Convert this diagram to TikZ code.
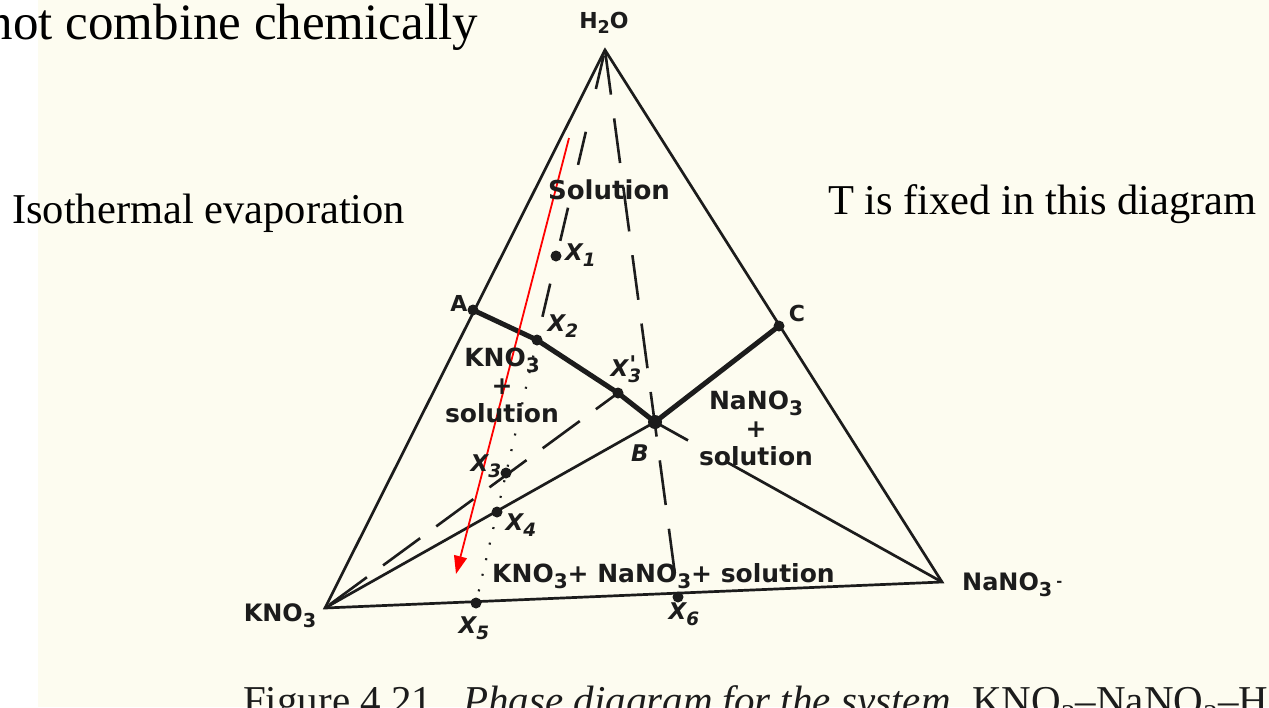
\documentclass[tikz,border=0pt]{standalone}
\usepackage{fontspec}
\setmainfont{Liberation Serif}
\newfontfamily\labfont{DejaVu Sans}
\usetikzlibrary{arrows.meta,calc}
\definecolor{paper}{RGB}{253,252,240}
\definecolor{ink}{RGB}{28,28,28}
\newcommand\sbs[1]{\raisebox{-0.45ex}{\scalebox{0.8}{#1}}}
\begin{document}
\begin{tikzpicture}[x=1pt,y=-1pt,
  every node/.style={inner sep=0pt,text=ink},
  tri/.style={draw=ink,line width=2.7pt,line join=miter},
  heavy/.style={draw=ink,line width=5pt,line cap=round,line join=round},
  dashl/.style={draw=ink,line width=2.6pt,dash pattern=on 34pt off 44pt},
  dashr/.style={draw=ink,line width=2.6pt,dash pattern=on 45pt off 24pt},
  dashk/.style={draw=ink,line width=2.6pt,dash pattern=on 46pt off 20pt},
  dotl/.style={draw=ink,line width=2.2pt,dash pattern=on 2pt off 14pt},
  dotn/.style={circle,fill=ink,minimum size=11pt},
  vlab/.style={font=\labfont\bfseries\fontsize{24}{26}\selectfont},
  rlab/.style={font=\labfont\bfseries\fontsize{25}{28}\selectfont,align=center},
  xlab/.style={font=\labfont\bfseries\itshape\fontsize{23}{24}\selectfont},
  serif/.style={text=black,font=\fontsize{42.5}{48}\selectfont},
  redarrow/.style={draw=red,line width=1.8pt,-{Triangle[length=18pt,width=13pt]}}
]
\useasboundingbox (0,0) rectangle (1269,707);
\clip (0,0) rectangle (1269,707);
\fill[white] (0,0) rectangle (1269,707);
\fill[paper] (38,0) rectangle (1269,707);

% vertices and points
\coordinate (H) at (605,50);
\coordinate (K) at (325,608);
\coordinate (N) at (942,582);
\node[dotn] (A) at (473,310) {};
\node[dotn] (C) at (779,326) {};
\node[dotn,minimum size=14pt] (B) at (655,422) {};
\node[dotn] (X1) at (556,256) {};
\node[dotn] (X2) at (537,340) {};
\node[dotn] (X3p) at (618,393) {};
\node[dotn] (X3) at (506,473) {};
\node[dotn] (X4) at (497,512) {};
\node[dotn] (X5) at (476,603) {};
\node[dotn] (X6) at (678,597) {};

% triangle
\draw[tri] (H) -- (K) -- (N) -- cycle;

% boundary curves
\draw[heavy] (A.center) -- (X2.center) -- (X3p.center) -- (B.center) -- (C.center);
\draw[tri] (B.center) -- (K);
\draw[tri] (B.center) -- ($(B)!0.115!(N)$);
\draw[tri] ($(B)!0.25!(N)$) -- (N);

% dashed construction lines
\draw[dashl,dash phase=-6pt] (H) -- (X2.center);
\draw[dotl] (X2.center) -- (X5.center);
\draw[dashr] (H) -- (X6.center);
\draw[dashk,dash phase=-6pt] (K) -- (X3p.center);

% red arrow
\coordinate (r0) at (569,138);
\coordinate (r1) at (456,574);
\draw[redarrow] (r0) -- (r1);

% vertex labels
\node[vlab,font=\labfont\bfseries\fontsize{22}{24}\selectfont] (lH) at (604,23) {H\sbs{2}O};
\node[vlab] (lK) at (280,616) {KNO\sbs{3}};
\node[vlab,anchor=west] (lN) at (962,585) {NaNO\sbs{3}\,\raisebox{0.3ex}{\scalebox{0.6}{-}}};
\node[vlab,font=\labfont\bfseries\fontsize{22}{24}\selectfont] (lA) at (459,303) {A};
\node[vlab,font=\labfont\bfseries\fontsize{22}{24}\selectfont] (lC) at (797,313) {C};
\node[xlab] (lB) at (640,453) {B};

% region labels
\node[rlab,font=\labfont\bfseries\fontsize{26}{28}\selectfont] (sol) at (609,190) {Solution};
\node[rlab] (kreg) at (502,385) {KNO\sbs{3}\\+\\solution};
\node[rlab] (nreg) at (756,428) {NaNO\sbs{3}\\+\\solution};
\node[rlab,anchor=west] (both) at (492,576) {KNO\sbs{3}+ NaNO\sbs{3}+ solution};

% point labels
\node[xlab,anchor=west] (lX1) at (565,255) {X\sbs{1}};
\node[xlab] (lX2) at (563,326) {X\sbs{2}};
\node[xlab] (lX3p) at (626,369) {X\rlap{\raisebox{0.35ex}{\kern1pt'}}\sbs{3}};
\node[xlab] (lX3) at (486,466) {X\sbs{3}};
\node[xlab] (lX4) at (521,525) {X\sbs{4}};
\node[xlab] (lX5) at (474,628) {X\sbs{5}};
\node[xlab] (lX6) at (684,614) {X\sbs{6}};

% slide texts
\node[text=black,font=\fontsize{51}{56}\selectfont,anchor=base east] (t0) at (478,39) {not combine chemically};
\node[serif,anchor=base west] (t1) at (12,223) {Isothermal evaporation};
\node[serif,anchor=base west] (t2) at (828,214) {T is fixed in this diagram};

% caption (cut by the frame)
\node[font=\fontsize{41}{44}\selectfont,anchor=base west] (c1) at (243,714) {Figure 4.21};
\node[font=\itshape\fontsize{41}{44}\selectfont,anchor=base west] (c2) at (463,714) {Phase diagram for the system};
\node[font=\fontsize{41}{44}\selectfont,anchor=base west] (c3) at (972,714) {KNO\textsubscript{3}–NaNO\textsubscript{3}–H\textsubscript{2}O};
\end{tikzpicture}
\end{document}
